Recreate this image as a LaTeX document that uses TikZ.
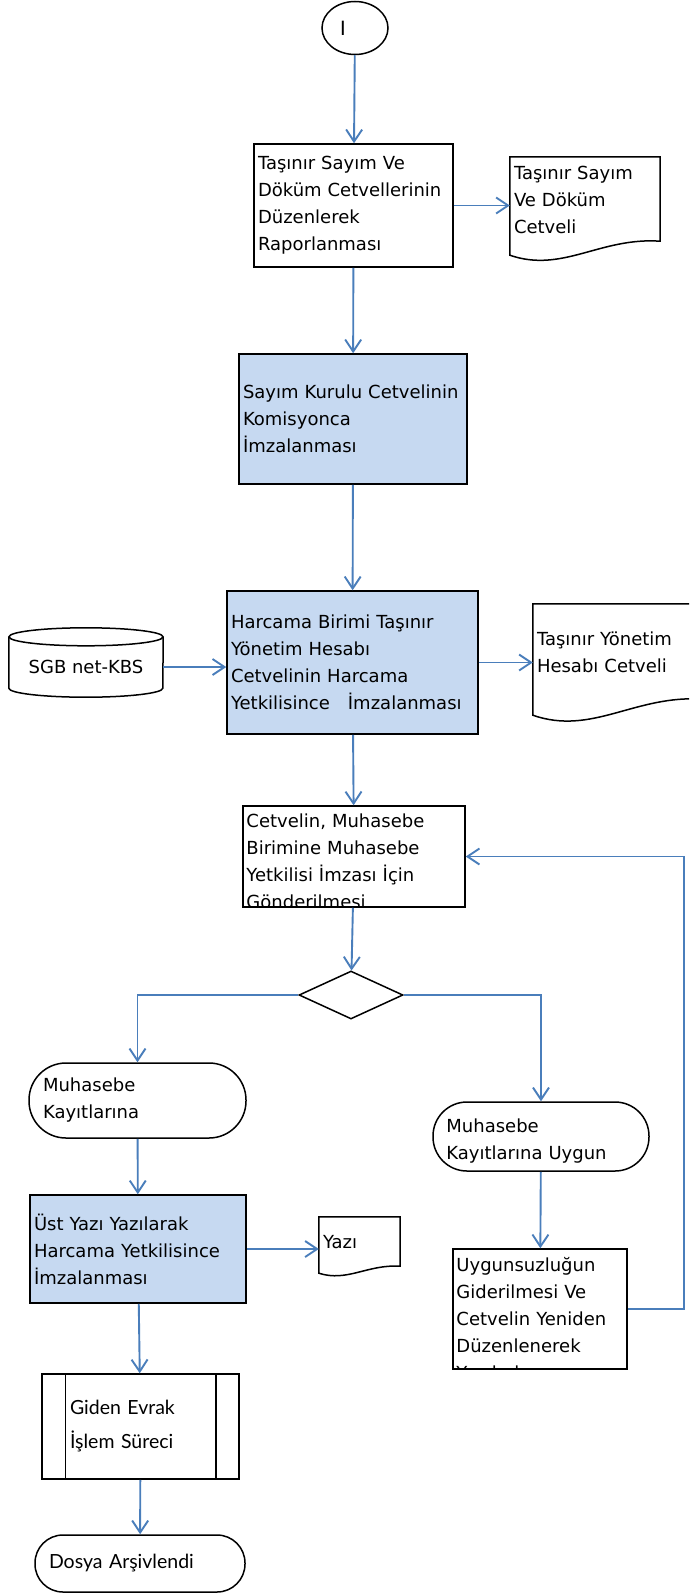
\documentclass[tikz,border=0pt]{standalone}
\usepackage{fontspec}
\setmainfont{DejaVu Sans}
\newfontfamily\gillfont{Lato}
\usetikzlibrary{arrows.meta, positioning, shapes.geometric, calc}
\definecolor{cflow}{HTML}{4A7EBB}
\definecolor{cfill}{HTML}{C6D9F1}

% document symbol with a wavy bottom (node, wave height, extra depth)
\newcommand{\docoutline}[3]{%
  \draw[line width=1.5pt] (#1.north west) -- (#1.north east)
    -- ($(#1.south east)+(0,{#3-#2})$)
    .. controls ($(#1.south west)!0.6!(#1.south east)+(0,{#3-1.3*#2})$)
            and ($(#1.south west)!0.35!(#1.south east)+(0,{#3+1.3*#2})$)
    .. ($(#1.south west)+(0,#3)$) -- cycle;
}

\begin{document}
\begin{tikzpicture}[
  x=1pt, y=-1pt,
  font=\fontsize{18}{27}\selectfont,
  >={Straight Barb[length=12pt, width=16pt]},
  flowbox/.style 2 args={draw, line width=1.5pt, inner xsep=4pt, inner ysep=0pt,
               align=left, minimum width=#1pt, minimum height=#2pt,
               text width={#1pt-8pt}},
  bluebox/.style 2 args={flowbox={#1}{#2}, fill=cfill},
  termbox/.style n args={3}{draw, line width=1.5pt, rounded corners=#3pt,
               inner xsep=14pt, inner ysep=0pt, align=left,
               minimum width=#1pt, minimum height=#2pt, text width={#1pt-28pt}},
  docbox/.style 2 args={inner xsep=4pt, inner ysep=0pt, align=left,
               minimum width=#1pt, minimum height=#2pt, text width={#1pt-8pt}},
  procbox/.style 2 args={draw, line width=1.5pt, inner xsep=28pt, inner ysep=0pt,
               align=left, minimum width=#1pt, minimum height=#2pt,
               text width={#1pt-56pt}, font=\gillfont\fontsize{19.5}{34}\selectfont},
  cliptext/.style={inner sep=0pt, align=left, text width=#1pt, anchor=north west},
  startnode/.style={draw, ellipse, line width=1.5pt, minimum width=66pt,
               minimum height=53pt, inner sep=0pt, align=left, text width=30pt,
               font=\gillfont\fontsize{20}{24}\selectfont},
  arr/.style={->, line width=1.9pt, draw=cflow},
  ]
\path[use as bounding box, clip] (0,0) rectangle (689,1595);

% main column
\node[startnode] (st) at (355,28) {I};
\node[flowbox={199}{123}] (b1) at (353.5,205.5)
  {Taşınır Sayım Ve\\Döküm Cetvellerinin\\Düzenlerek\\Raporlanması};
\node[docbox={150}{86}] (d1) at (585,200) {Taşınır Sayım\\Ve Döküm\\Cetveli};
\docoutline{d1}{14}{12}
\node[bluebox={228}{130}] (b2) at (353,419)
  {Sayım Kurulu Cetvelinin\\Komisyonca\\İmzalanması};
\node[bluebox={251}{143}] (b3) at (352.5,662.5)
  {Harcama Birimi Taşınır\\Yönetim Hesabı\\Cetvelinin Harcama\\Yetkilisince\ \ \ İmzalanması};

% SGB net-KBS store
\node[minimum width=154pt, minimum height=60pt, inner sep=0pt] (kbs) at (86,667) {SGB net-KBS};
\draw[line width=1.5pt] (kbs.north west) -- ($(kbs.south west)+(0,-9)$)
  arc[start angle=180, end angle=360, x radius=77pt, y radius=9pt]
  -- (kbs.north east);
\draw[line width=1.5pt] (kbs.north) ellipse[x radius=77pt, y radius=9pt];

\node[docbox={170}{97}] (d2) at (618,652.5) {Taşınır Yönetim\\Hesabı Cetveli};
\docoutline{d2}{16}{14}

\node[flowbox={222}{101}] (b4) at (354,856.5) {};
\begin{scope}
  \clip (b4.north west) rectangle (b4.south east);
  \node[cliptext=214] (b4t) at ($(b4.north west)+(4,8)$)
    {Cetvelin, Muhasebe\\Birimine Muhasebe\\Yetkilisi İmzası İçin\\Gönderilmesi};
\end{scope}

\node[draw, diamond, line width=1.5pt, minimum width=104pt, minimum height=48pt,
      inner sep=0pt] (dec) at (351,995) {};

% left branch
\node[termbox={217}{75}{37}] (t1) at (137.5,1100.5) {Muhasebe\\Kayıtlarına};
\node[bluebox={216}{108}] (b5) at (138,1249)
  {Üst Yazı Yazılarak\\Harcama Yetkilisince\\İmzalanması};
\node[docbox={81}{50}] (d3) at (359.5,1242) {Yazı};
\docoutline{d3}{7}{6}
\node[procbox={197}{105}] (p1) at (140.5,1426.5) {Giden Evrak\\İşlem Süreci};
\draw[line width=1.5pt] ([xshift=24pt]p1.north west) -- ([xshift=24pt]p1.south west);
\draw[line width=1.5pt] ([xshift=-24pt]p1.north east) -- ([xshift=-24pt]p1.south east);
\node[termbox={210}{57}{28}, font=\gillfont\fontsize{19.5}{34}\selectfont] (t3)
  at (140,1563.5) {Dosya Arşivlendi};

% right branch
\node[termbox={216}{69}{34}] (t2) at (541,1136.5) {};
\begin{scope}
  \clip (t2.north west) rectangle ($(t2.south east)+(0,-9)$);
  \node[cliptext=190] (t2t) at ($(t2.north west)+(14,17)$) {Muhasebe\\Kayıtlarına Uygun};
\end{scope}
\node[flowbox={174}{120}] (b6) at (540,1309) {};
\begin{scope}
  \clip (b6.north west) rectangle (b6.south east);
  \node[cliptext=166] (b6t) at ($(b6.north west)+(4,9)$)
    {Uygunsuzluğun\\Giderilmesi Ve\\Cetvelin Yeniden\\Düzenlenerek\\Yazdırılması};
\end{scope}

% connectors
\draw[arr] (st) -- (b1);
\draw[arr] (b1.east) -- (b1.east -| d1.west);
\draw[arr] (b1) -- (b2);
\draw[arr] (b2) -- (b3);
\draw[arr] (kbs.east) -- (kbs.east -| b3.west);
\draw[arr] (b3.east) -- (b3.east -| d2.west);
\draw[arr] (b3) -- (b4);
\draw[arr] (b4) -- (dec);
\draw[arr] (dec.west) -| (t1.north);
\draw[arr] (dec.east) -| (t2.north);
\draw[arr] (t1) -- (b5);
\draw[arr] (b5.east) -- (b5.east -| d3.west);
\draw[arr] (b5) -- (p1);
\draw[arr] (p1) -- (t3);
\draw[arr] (t2) -- (b6);
\draw[arr] (b6.east) -- ++(56,0) |- (b4.east);
\end{tikzpicture}
\end{document}
